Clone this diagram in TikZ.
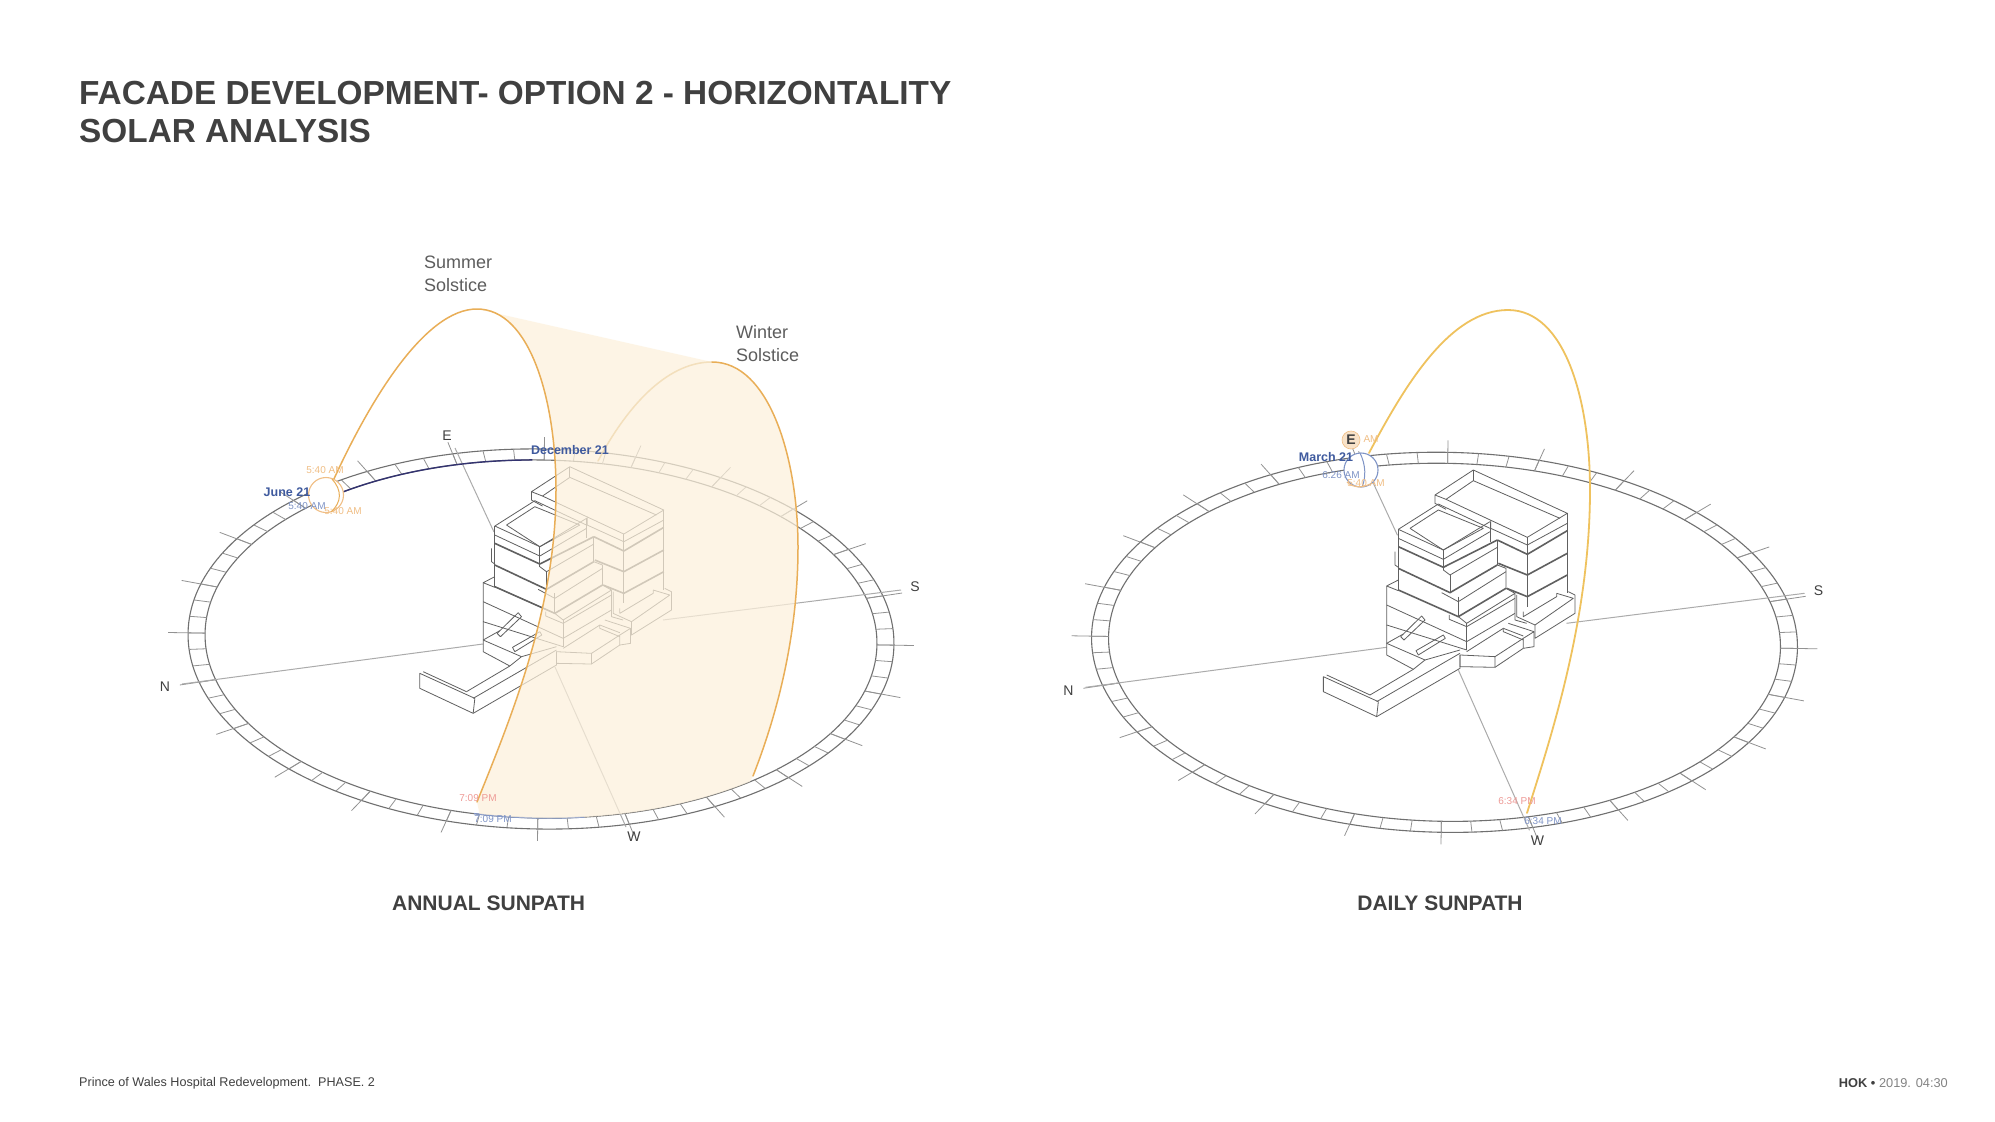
\documentclass[tikz,border=0pt]{standalone}
\usepackage{fontspec}
\setmainfont{Liberation Sans}
\definecolor{ink}{HTML}{404040}
\definecolor{ringc}{HTML}{707070}
\definecolor{tickc}{HTML}{929292}
\definecolor{compass}{HTML}{ABABAB}
\definecolor{bld}{HTML}{606060}
\definecolor{sunor}{HTML}{E9AE57}
\definecolor{sunpale}{HTML}{F3DFBC}
\definecolor{sunye}{HTML}{EFC25E}
\definecolor{shadecol}{HTML}{FDF1DC}
\definecolor{navy}{HTML}{3F5A9E}
\definecolor{softblue}{HTML}{7F94C6}
\definecolor{softor}{HTML}{F0BE85}
\definecolor{softred}{HTML}{EE9A96}
\tikzset{
  ringline/.style={draw=ringc,line width=1.1pt},
  ticksh/.style={draw=tickc,line width=.8pt},
  comline/.style={draw=compass,line width=1pt},
  bl/.style={draw=bld,line width=.8pt,line join=round},
  bt/.style={draw=bld,line width=1.6pt,line join=round},
  dirlab/.style={font=\fontsize{14}{14}\selectfont,text=ink,inner sep=0pt},
  smalllab/.style={font=\fontsize{10}{10}\selectfont,inner sep=0pt},
  bluelab/.style={font=\bfseries\fontsize{12.5}{12.5}\selectfont,text=navy,inner sep=0pt},
  solst/.style={font=\fontsize{18}{23}\selectfont,text=ink!85,inner sep=0pt,anchor=north west,align=left},
  captext/.style={font=\bfseries\fontsize{21}{21}\selectfont,text=ink,inner sep=0pt},
  sunarc/.style={draw=sunor,line width=1.5pt,line cap=round},
}
\newcommand{\sitebase}{%
  \begin{scope}[shift={(541,639)},rotate=-1]
    \draw[ringline] (0,0) ellipse [x radius=353,y radius=190];
    \draw[ringline] (0,0) ellipse [x radius=336,y radius=179];
    \foreach \a in {0,5,...,355}{\draw[ticksh] ({336*cos(\a)},{179*sin(\a)}) -- ({353*cos(\a)},{190*sin(\a)});}
    \foreach \a in {0,15,...,345}{\draw[ticksh] ({336*cos(\a)},{179*sin(\a)}) -- ({373*cos(\a)},{202*sin(\a)});}
  \end{scope}
  \draw[comline] (455,448) -- (494,532);
  \draw[comline] (555,667) -- (626,827);
  \draw[comline] (182,684) -- (483,644);
  \draw[comline] (663,620) -- (901,590);
  \begin{scope}[shift={(456.5,456.7)},x=.3333pt,y=-.3333pt]
    % back block
    \draw[bl] (225,105) -- (340,30) -- (622,160) -- (502,232) -- (258,118) -- (225,105) -- (225,130) -- (258,148);
    \draw[bl] (258,118) -- (340,62) -- (600,175);
    \draw[bl] (340,30) -- (340,62);
    \draw[bl] (622,160) -- (622,400);
    \draw[bl] (502,232) -- (502,440);
    \draw[bl] (392,180) -- (392,205) -- (502,255) -- (622,190);
    \draw[bt] (412,240) -- (502,283) -- (622,212);
    \draw[bt] (415,310) -- (502,345) -- (622,280);
    \draw[bt] (440,385) -- (502,410) -- (622,345);
    % front block
    \draw[bl] (115,208) -- (235,132);
    \draw[bl] (115,208) -- (250,270) -- (390,185);
    \draw[bl] (150,205) -- (235,150) -- (370,205) -- (250,270) -- (150,205);
    \draw[bl] (235,132) -- (390,205);
    \draw[bl] (115,208) -- (115,392);
    \draw[bl] (250,270) -- (250,330);
    \draw[bl] (390,185) -- (390,245);
    \draw[bl] (115,235) -- (250,298) -- (390,215);
    \draw[bt] (115,260) -- (250,322) -- (412,240);
    \draw[bl] (105,275) -- (105,315) -- (115,322);
    \draw[bl] (250,330) -- (270,345) -- (412,262);
    \draw[bl] (270,345) -- (270,398);
    \draw[bl] (412,240) -- (412,315);
    \draw[bt] (115,325) -- (270,398) -- (412,315);
    \draw[bl] (412,315) -- (438,325) -- (438,385);
    \draw[bl] (295,410) -- (295,468);
    \draw[bl] (245,398) -- (295,425) -- (438,335);
    \draw[bt] (115,390) -- (295,470) -- (438,385);
    % podium
    \draw[bl] (115,360) -- (80,378) -- (115,392);
    \draw[bl] (80,378) -- (80,495) -- (320,570);
    \draw[bl] (80,435) -- (320,545) -- (465,460);
    \draw[bl] (295,470) -- (320,490) -- (465,400) -- (465,460);
    \draw[bl] (320,490) -- (320,570);
    \draw[bl] (268,465) -- (268,478) -- (320,500) -- (465,415);
    \draw[bl] (465,400) -- (438,385);
    % side wing
    \draw[bl] (470,405) -- (470,470) -- (525,495) -- (640,415) -- (590,400);
    \draw[bl] (625,395) -- (645,405) -- (645,460) -- (525,535) -- (525,495);
    \draw[bl] (490,455) -- (490,470) -- (590,410) -- (590,400);
    % front pieces
    \draw[bl] (300,585) -- (405,590) -- (405,622) -- (300,620) -- cycle;
    \draw[bl] (405,590) -- (490,535) -- (490,565) -- (405,622);
    \draw[bl] (490,535) -- (522,515) -- (522,560) -- (490,565);
    \draw[bl] (445,490) -- (522,515);
    \draw[bl] (320,575) -- (430,505) -- (430,515) -- (490,540);
    \draw[bl] (430,505) -- (490,528);
    \draw[bl] (465,460) -- (465,480) -- (500,490);
    % lower-left wing
    \draw[bl] (80,495) -- (80,585) -- (160,628);
    \draw[bl] (80,550) -- (130,522) ;
    \draw[bl] (80,550) -- (195,600) -- (160,628) -- (30,705);
    \draw[bl] (195,600) -- (300,570);
    \draw[bl] (-110,650) -- (-110,695) -- (50,770) -- (55,725) -- cycle;
    \draw[bl] (-100,645) -- (30,705);
    \draw[bl] (50,725) -- (300,580);
    \draw[bl] (50,770) -- (300,625) -- (300,585);
    % bars
    \draw[bl] (122,530) -- (185,468) -- (195,480) -- (132,540) -- cycle;
    \draw[bl] (168,572) -- (250,525) -- (256,535) -- (175,585) -- cycle;
  \end{scope}
  \node[dirlab] at (165,687) {N};
  \node[dirlab] at (915,587) {S};
  \node[dirlab] at (634,837) {W};
}
\begin{document}
\begin{tikzpicture}[x=1pt,y=-1pt]
\useasboundingbox (0,0) rectangle (1995,1122);
\fill[white] (0,0) rectangle (1995,1122);

% Left site
\sitebase
\begin{scope}[shift={(541,639)},rotate=-1]
  \draw[draw=black!70!blue!80,line width=1.4pt] ({336*cos(232)},{179*sin(232)}) arc [start angle=232,end angle=268,x radius=336,y radius=179];
  \draw[draw=softblue,line width=1.3pt] ({336*cos(101)},{179*sin(101)}) arc [start angle=101,end angle=82,x radius=336,y radius=179];
\end{scope}
\fill[shadecol,fill opacity=.72] (477,309) -- (712,362) .. controls (770,362) and (798,460) .. (798,547) .. controls (798,640) and (775,720) .. (753,776) -- (750,781.6) .. controls (673.7,813) and (575.4,825) .. (479.6,814) -- (477,802) .. controls (510,720) and (556,610) .. (556,490) .. controls (556,400) and (530,309) .. (477,309) -- cycle;
\draw[sunarc,draw=sunpale] (598,461) .. controls (625,410) and (665,362) .. (712,362);
\draw[sunarc] (712,362) .. controls (770,362) and (798,460) .. (798,547) .. controls (798,640) and (775,720) .. (753,776);
\draw[sunarc] (333,481) .. controls (370,400) and (425,309) .. (477,309) .. controls (530,309) and (556,400) .. (556,490) .. controls (556,610) and (510,720) .. (477,802);
\node[dirlab] (eL) at (447,436) {E};
\draw[draw=softor,fill=white,line width=1.1pt] (326,495) circle [radius=17.5];
\draw[draw=sunor,line width=1pt] (332,479) .. controls (342,490) and (342,502) .. (331,512);
\node[bluelab] (juneL) at (287,492) {June 21};
\node[smalllab,text=softor] (aL) at (325,470) {5:40 AM};
\node[smalllab,text=softblue] (bL) at (307,506) {5:40 AM};
\node[smalllab,text=softor] (cL) at (343,511) {5:40 AM};
\node[bluelab] (decL) at (570,450) {December 21};
\node[smalllab,text=softred] (dL) at (478,798) {7:09 PM};
\node[smalllab,text=softblue] (fL) at (493,819) {7:09 PM};

% Right site
\begin{scope}[shift={(903.5,3.3)}]
  \sitebase
\end{scope}
\draw[sunarc,draw=sunye,line width=1.8pt] (1369,453) .. controls (1405,385) and (1450,310) .. (1508,310) .. controls (1565,310) and (1590,400) .. (1590,490) .. controls (1590,620) and (1550,740) .. (1527,813);
\draw[draw=softblue,fill=white,line width=1.1pt] (1361,470) circle [radius=17];
\draw[draw=softblue,line width=1pt] (1360,453) .. controls (1366,465) and (1366,478) .. (1362,487);
\draw[draw=softor,line width=1.1pt] (1347,482) .. controls (1353,488) and (1363,488) .. (1370,484);
\draw[draw=softor,fill=softor!45,line width=.6pt] (1351,440) circle [radius=9];
\node[smalllab,text=softor] (aR) at (1371,439) {AM};
\node[dirlab,font=\bfseries\fontsize{14}{14}\selectfont] (eR) at (1351,440) {E};
\node[bluelab] (marR) at (1326,457) {March 21};
\node[smalllab,text=softblue] (bR) at (1341,475) {6:26 AM};
\node[smalllab,text=softor] (cR) at (1366,483) {5:40 AM};
\node[smalllab,text=softred] (dR) at (1517,801) {6:34 PM};
\node[smalllab,text=softblue] (fR) at (1543,821) {6:34 PM};

% Texts
\node[solst] (sum) at (424,256) {Summer\\Solstice};
\node[solst] (win) at (736,325) {Winter\\Solstice};
\node[captext] (capA) at (488.6,903) {ANNUAL SUNPATH};
\node[captext] (capD) at (1440,903) {DAILY SUNPATH};
\node[inner sep=0pt,anchor=north west,align=left,text=ink,font=\bfseries\fontsize{33.35}{38}\selectfont] (title) at (79,81) {FACADE DEVELOPMENT- OPTION 2 - HORIZONTALITY\\SOLAR ANALYSIS};
\node[inner sep=0pt,anchor=west,text=ink,font=\fontsize{12.6}{13}\selectfont] (foot) at (79,1083.5) {Prince of Wales Hospital Redevelopment.\ \ PHASE. 2};
\node[inner sep=0pt,anchor=east,text=ink,font=\fontsize{12.8}{13}\selectfont] (stamp) at (1948,1083.5) {\textbf{HOK •} \textcolor{ink!65}{2019. 04:30}};
\end{tikzpicture}
\end{document}
